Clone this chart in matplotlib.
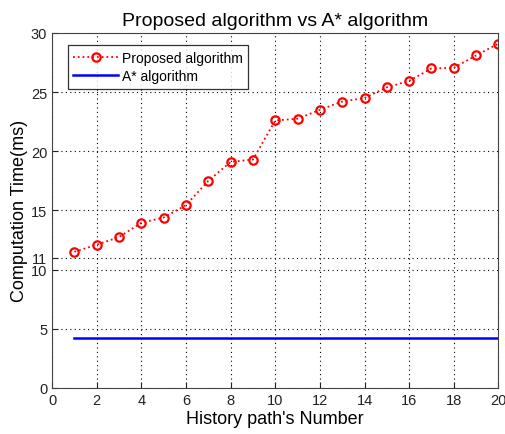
import matplotlib
matplotlib.use("Agg")
import matplotlib.pyplot as plt

plt.rcParams['font.family'] = ['Liberation Sans', 'DejaVu Sans']

paths = list(range(1, 21))
proposed = [11.5, 12.1, 12.75, 13.95, 14.4, 15.45, 17.5, 19.1, 19.3, 22.6,
            22.75, 23.5, 24.2, 24.5, 25.4, 25.95, 27.0, 27.05, 28.1, 29.1]
astar = [4.2] * 20

yticks = [0, 5, 10, 11, 15, 20, 25, 30]
xticks = list(range(0, 21, 2))

fig = plt.figure(figsize=(5.06, 4.35), dpi=100)
ax = fig.add_axes([0.103, 0.106, 0.882, 0.816])

ax.plot(paths, proposed, color='red', linestyle=':', linewidth=1.3,
        marker='o', markersize=6, markerfacecolor='none',
        markeredgecolor='red', markeredgewidth=1.6, label='Proposed algorithm')
ax.plot(paths, astar, color='blue', linewidth=1.8, label='A* algorithm')

ax.set_xlim(0, 20)
ax.set_ylim(0, 30)
ax.set_xticks(xticks)
ax.set_yticks(yticks)
ax.grid(True, linestyle=(0, (1, 3)), color='black', linewidth=0.8)
ax.tick_params(direction='in', labelsize=10.5, length=4, colors='#222222')
for s in ax.spines.values():
    s.set_color('#444444')

ax.set_title('Proposed algorithm vs A* algorithm', fontsize=14, pad=6)
ax.set_xlabel("History path's Number", fontsize=13, labelpad=2)
ax.set_ylabel('Computation Time(ms)', fontsize=13, labelpad=2)

leg = ax.legend(loc='upper left', bbox_to_anchor=(0.035, 0.965), fontsize=10,
                frameon=True, fancybox=False, borderpad=0.4, handlelength=3.2,
                handletextpad=0.3, labelspacing=0.3, borderaxespad=0)
leg.get_frame().set_edgecolor('black')
leg.get_frame().set_linewidth(0.9)

fig.savefig('out.png', dpi=100)
